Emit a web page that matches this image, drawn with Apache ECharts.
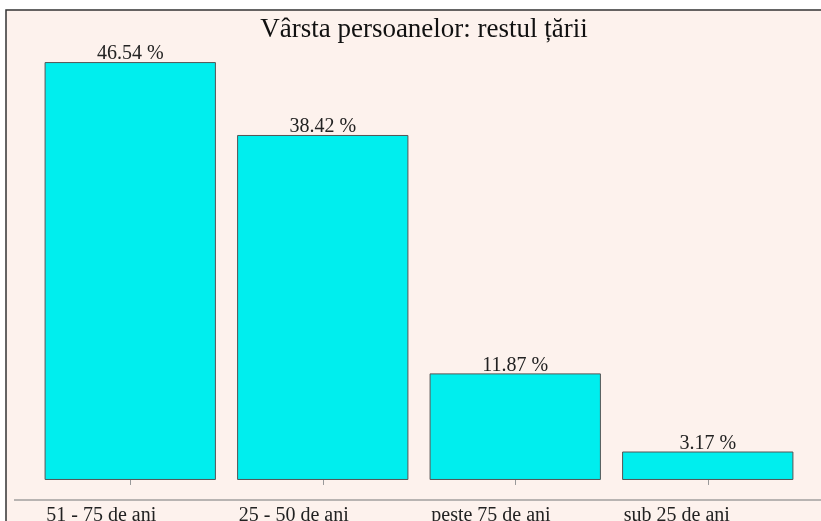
<!DOCTYPE html>
<html>
<head>
<meta charset="utf-8">
<style>
  html, body { margin: 0; padding: 0; background: #ffffff; }
  #chart { width: 821px; height: 521px; }
</style>
<script src="https://cdn.jsdelivr.net/npm/echarts@6/dist/echarts.min.js"></script>
</head>
<body>
<div id="chart"></div>
<script>
// data
const categories = ['51 - 75 de ani', '25 - 50 de ani', 'peste 75 de ani', 'sub 25 de ani'];
const shares = [46.54, 38.42, 11.87, 3.17];

const panelBg = '#fdf2ed';
const serif = 'Liberation Serif, DejaVu Serif, serif';

const chart = echarts.init(document.getElementById('chart'));

chart.setOption({
    backgroundColor: '#ffffff',
    animation: false,
    title: {
        text: 'Vârsta persoanelor: restul țării',
        left: 419,
        textAlign: 'center',
        top: 11,
        textStyle: { fontFamily: serif, fontSize: 27, fontWeight: 'normal', color: '#111' }
    },
    graphic: [
        {
            type: 'rect',
            z: -10,
            shape: { x: 6, y: 10, width: 840, height: 540 },
            style: { fill: panelBg, stroke: '#333', lineWidth: 1.5 }
        },
        {
            type: 'line',
            z: 1,
            shape: { x1: 14, y1: 500, x2: 821, y2: 500 },
            style: { stroke: '#b8b4b2', lineWidth: 2 }
        }
    ],
    // labels are cut off at the bottom edge in the reference, so keep the grid fixed
    grid: { left: 34, right: 17, top: 31, bottom: 21, outerBoundsMode: 'none', containLabel: false },
    xAxis: {
        type: 'category',
        data: categories,
        axisLine: { show: false },
        axisTick: { show: true, alignWithLabel: true, length: 5, lineStyle: { color: '#999' } },
        axisLabel: {
            margin: 6,
            align: 'center',
            formatter: v => '{a|' + v + '}',
            rich: {
                // labels start at the left edge of each bar
                a: { width: 168, align: 'left', fontFamily: serif, fontSize: 20, color: '#222' }
            }
        }
    },
    yAxis: {
        type: 'value',
        min: -2.23,
        max: 50,
        show: false,
        splitLine: { show: false }
    },
    series: [{
        type: 'bar',
        data: shares,
        barCategoryGap: '11%',
        itemStyle: { color: '#00eeee', borderColor: '#555', borderWidth: 1 },
        label: {
            show: true,
            position: 'top',
            distance: -2,
            fontFamily: serif,
            fontSize: 20,
            color: '#222',
            formatter: p => p.value.toFixed(2) + ' %'
        }
    }]
});
</script>
</body>
</html>
